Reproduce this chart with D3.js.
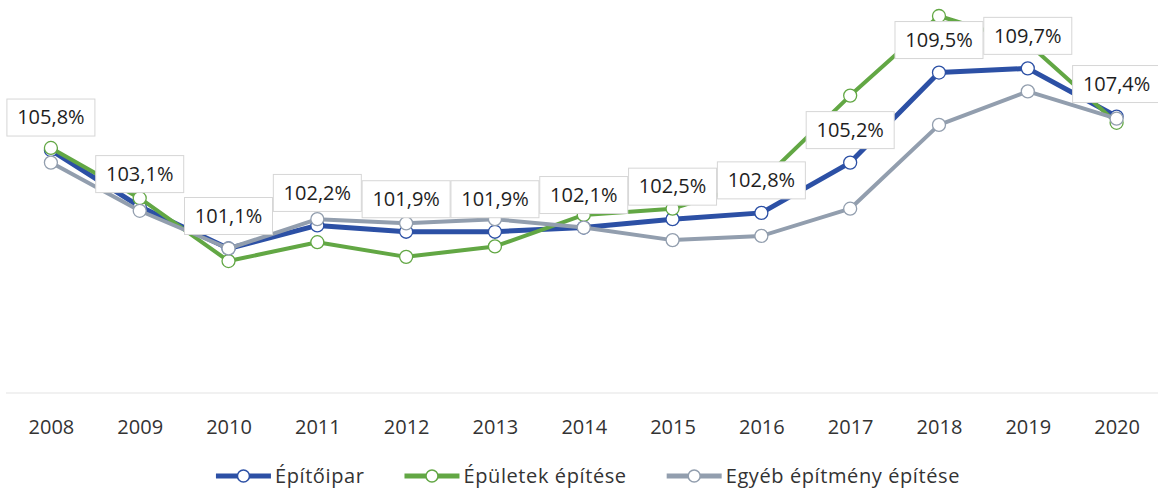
<!DOCTYPE html>
<html lang="hu">
<head>
<meta charset="utf-8">
<script src="https://cdn.jsdelivr.net/npm/d3@7"></script>
<style>
    html, body { margin: 0; padding: 0; background: #fff; }
    .chart-ctn { width: 1158px; height: 490px; overflow: hidden; }
    text { font-family: "Open Sans", "Noto Sans", sans-serif; }
</style>
</head>
<body>
<div class="chart-ctn"></div>
<script>
const years = ['2008', '2009', '2010', '2011', '2012', '2013', '2014', '2015', '2016', '2017', '2018', '2019', '2020'];
const epitoipar = [105.8, 103.1, 101.1, 102.2, 101.9, 101.9, 102.1, 102.5, 102.8, 105.2, 109.5, 109.7, 107.4];
const epuletek = [105.9, 103.5, 100.5, 101.4, 100.7, 101.2, 102.7, 103.0, 104.3, 108.4, 112.2, 110.9, 107.1];
const egyeb = [105.2, 102.9, 101.1, 102.5, 102.3, 102.5, 102.1, 101.5, 101.7, 103.0, 107.0, 108.6, 107.3];
const seriesNames = ['Építőipar', 'Épületek építése', 'Egyéb építmény építése'];

const w = 1158;
const h = 490;

const series = [
    { name: seriesNames[0], values: epitoipar, color: '#2c50a5', width: 5 },
    { name: seriesNames[1], values: epuletek, color: '#62a744', width: 4 },
    { name: seriesNames[2], values: egyeb, color: '#929eae', width: 4 }
];

const svg = d3.select('.chart-ctn')
    .append('svg')
    .attr('width', w)
    .attr('height', h)
    .style('background-color', 'white');

const x = d3.scalePoint()
    .domain(years)
    .range([6.5, 1161])
    .padding(0.5);

const y = d3.scaleLinear()
    .domain([94.2, 112.2])
    .range([393, 16]);

// halvány alapvonal
svg.append('line')
    .attr('x1', 6)
    .attr('x2', w)
    .attr('y1', y.range()[0])
    .attr('y2', y.range()[0])
    .attr('stroke', '#f1f1f1')
    .attr('stroke-width', 2);

const xAxis = d3.axisBottom(x)
    .tickSize(0)
    .tickPadding(27);

const gx = svg.append('g')
    .attr('id', 'x-axis')
    .attr('transform', 'translate(0,' + y.range()[0] + ')')
    .call(xAxis);
gx.select('.domain').remove();
gx.selectAll('text')
    .attr('fill', '#333')
    .style('font-size', '20px');

const line = d3.line()
    .x((d, i) => x(years[i]))
    .y(d => y(d));

series.forEach(s => {
    svg.append('path')
        .datum(s.values)
        .attr('fill', 'none')
        .attr('stroke', s.color)
        .attr('stroke-width', s.width)
        .attr('stroke-linejoin', 'round')
        .attr('d', line);

    svg.append('g')
        .selectAll('circle')
        .data(s.values)
        .join('circle')
        .attr('cx', (d, i) => x(years[i]))
        .attr('cy', d => y(d))
        .attr('r', 6.5)
        .attr('fill', 'white')
        .attr('stroke', s.color)
        .attr('stroke-width', 1.3);
});

// adatcímkék az Építőipar sorhoz
const fmt = v => v.toFixed(1).replace('.', ',') + '%';
const labels = svg.append('g')
    .selectAll('g')
    .data(epitoipar)
    .join('g')
    .attr('transform', (d, i) => 'translate(' + x(years[i]) + ',' + (y(d) - 33) + ')');

labels.append('rect')
    .attr('x', -44)
    .attr('y', -18)
    .attr('width', 88)
    .attr('height', 37)
    .attr('fill', 'white')
    .attr('stroke', '#d6d6d6')
    .attr('stroke-width', 1);

labels.append('text')
    .attr('text-anchor', 'middle')
    .attr('dy', '0.36em')
    .attr('fill', '#1e1e1e')
    .style('font-size', '20px')
    .text(d => fmt(d));

// jelmagyarázat
const legend = svg.append('g').attr('transform', 'translate(0,476)');
const items = legend.selectAll('g')
    .data(series)
    .join('g');

items.append('line')
    .attr('x1', 0)
    .attr('x2', 55)
    .attr('stroke', d => d.color)
    .attr('stroke-width', 5);

items.append('circle')
    .attr('cx', 27.5)
    .attr('r', 6)
    .attr('fill', 'white')
    .attr('stroke', d => d.color)
    .attr('stroke-width', 1.5);

items.append('text')
    .attr('x', 59)
    .attr('dy', '0.36em')
    .attr('fill', '#333')
    .style('font-size', '20px')
    .style('letter-spacing', '0.6px')
    .text(d => d.name);

const gap = 40;
const widths = [];
items.each(function () { widths.push(this.getBBox().width); });
const total = d3.sum(widths) + gap * (widths.length - 1);
let cursor = 588 - total / 2;
items.attr('transform', (d, i) => {
    const t = 'translate(' + cursor + ',0)';
    cursor += widths[i] + gap;
    return t;
});
</script>
</body>
</html>
